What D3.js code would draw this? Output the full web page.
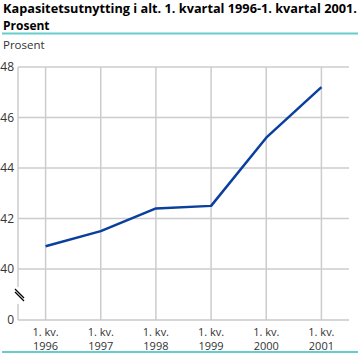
<!DOCTYPE html>
<html><head><meta charset="utf-8">
<script src="https://cdn.jsdelivr.net/npm/d3@7"></script>
<style>body{margin:0;background:#fff}svg{display:block}text{font-family:"Open Sans","Noto Sans",sans-serif}</style>
</head><body><svg id="c" width="361" height="361"></svg>
<script>
const categories = ["1. kv.|1996","1. kv.|1997","1. kv.|1998","1. kv.|1999","1. kv.|2000","1. kv.|2001"];
const values = [40.9, 41.5, 42.4, 42.5, 45.2, 47.2];
const yTicks = [0, 40, 42, 44, 46, 48];
const title1 = "Kapasitetsutnytting i alt. 1. kvartal 1996-1. kvartal 2001.";
const title2 = "Prosent";
const unit = "Prosent";

const svg = d3.select("#c");
const L = 18, R = 349, T = 67, B = 320;
const x = d3.scaleBand().domain(categories).range([L, R]);
const y = d3.scaleLinear().domain([0, 40, 48]).range([B, 269, T]);

// title
const t1 = svg.append("text").attr("x", 3).attr("y", 13).attr("font-size", 12).attr("font-weight", "bold").attr("fill", "#000").text(title1);
const w = t1.node().getComputedTextLength();
if (Math.abs(w - 354) > 2) t1.attr("textLength", 354).attr("lengthAdjust", "spacingAndGlyphs");
svg.append("text").attr("x", 3).attr("y", 29.5).attr("font-size", 12).attr("font-weight", "bold").attr("fill", "#000").text(title2);
svg.append("line").attr("x1", 2).attr("x2", 358).attr("y1", 33.5).attr("y2", 33.5).attr("stroke", "#66cccc").attr("stroke-width", 2);
svg.append("line").attr("x1", 2).attr("x2", 358).attr("y1", 352).attr("y2", 352).attr("stroke", "#66cccc").attr("stroke-width", 2);
svg.append("text").attr("x", 3).attr("y", 49).attr("font-size", 11.5).attr("fill", "#333").text(unit);

// horizontal grid
const g = svg.append("g");
g.selectAll(".hg").data(yTicks.filter(d => d > 0)).join("line")
  .attr("x1", L).attr("x2", R).attr("y1", d => y(d)).attr("y2", d => y(d))
  .attr("stroke", "#cccccc").attr("stroke-width", 1.5);
// vertical grid
g.selectAll(".vg").data(categories).join("line")
  .attr("x1", d => x(d) + x.bandwidth()/2).attr("x2", d => x(d) + x.bandwidth()/2)
  .attr("y1", T).attr("y2", B)
  .attr("stroke", "#cccccc").attr("stroke-width", 1.5);
// baseline
g.append("line").attr("x1", L).attr("x2", R).attr("y1", y(0)).attr("y2", y(0)).attr("stroke", "#c8c8c8").attr("stroke-width", 1.5);
// left axis with break
g.append("line").attr("x1", L).attr("x2", L).attr("y1", T).attr("y2", 287).attr("stroke", "#cccccc").attr("stroke-width", 1.5);
g.append("line").attr("x1", L).attr("x2", L).attr("y1", 304).attr("y2", B).attr("stroke", "#cccccc").attr("stroke-width", 1.5);
[0, 3].forEach(o => {
  g.append("line").attr("x1", 15).attr("y1", 289 + o).attr("x2", 24).attr("y2", 298 + o)
    .attr("stroke", "#000").attr("stroke-width", 1.2);
});

// y tick labels
svg.selectAll(".yt").data(yTicks).join("text")
  .attr("x", 14).attr("y", d => y(d) + 4).attr("text-anchor", "end")
  .attr("font-size", 12).attr("fill", "#333").text(d => d);

// x tick labels
svg.selectAll(".xt1").data(categories).join("text")
  .attr("text-anchor", "middle").attr("font-size", 11).attr("fill", "#333")
  .attr("x", d => x(d) + x.bandwidth()/2).attr("y", 336).text(d => d.split("|")[0]);
svg.selectAll(".xt2").data(categories).join("text")
  .attr("text-anchor", "middle").attr("font-size", 11).attr("fill", "#333")
  .attr("x", d => x(d) + x.bandwidth()/2).attr("y", 350).text(d => d.split("|")[1]);

// line
const line = d3.line().x((d, i) => x(categories[i]) + x.bandwidth()/2).y(d => y(d));
svg.append("path").datum(values).attr("d", line).attr("fill", "none")
  .attr("stroke", "#0a3f9e").attr("stroke-width", 2.5).attr("stroke-linejoin", "round");
</script></body></html>
